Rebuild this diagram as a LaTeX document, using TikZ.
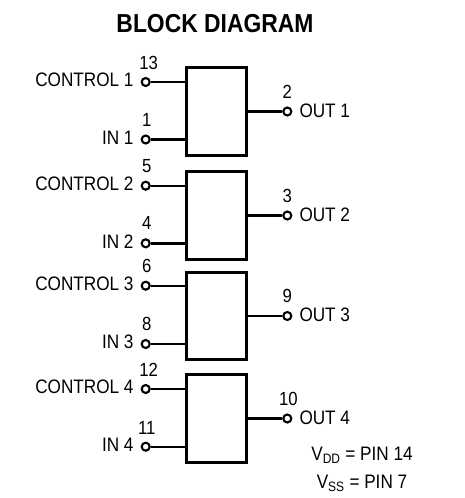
\documentclass[tikz,border=0pt]{standalone}
\usepackage{fontspec}
\setmainfont[FakeStretch=0.88]{Liberation Sans}

\tikzset{
	blk/.style={draw,line width=2.6pt,minimum width=60pt,minimum height=87.5pt,inner sep=0pt},
	pin/.style={circle,draw,line width=2.1pt,minimum size=8pt,inner sep=0pt},
	pinno/.style={font=\fontsize{19}{19}\selectfont,inner sep=0pt},
	lbl/.style={font=\fontsize{19.5}{19.5}\selectfont,inner sep=0pt},
	wire/.style={line width=2.4pt}
}

\begin{document}
\begin{tikzpicture}[x=1pt,y=-1pt]
	\useasboundingbox (0,0) rectangle (464,498);
	\node[font=\bfseries\fontsize{26}{26}\selectfont] (title) at (215,24) {BLOCK DIAGRAM};
%%%%%%%%%%%%%%%%%%%%%%%%%%%%%%%%%%%%%%%%%%%%%%%%%%%%%%%%%%%%
	\node[blk] (blk1) at (216.7,111.5) {};
	\node[pin] (ctl1) at (145.7,82) {};
	\node[pin] (in1) at (145.7,139.5) {};
	\node[pin] (out1) at (287.3,111.5) {};
	\draw[wire] (ctl1) -- (ctl1 -| blk1.west);
	\draw[wire] (in1) -- (in1 -| blk1.west);
	\draw[wire] (blk1) -- (out1);
	\node[lbl,anchor=east] (lctl1) at ([xshift=-12pt,yshift=2pt]ctl1.center) {CONTROL 1};
	\node[lbl,anchor=east] (lin1) at ([xshift=-12pt,yshift=2pt]in1.center) {IN 1};
	\node[lbl,anchor=west] (lout1) at ([xshift=12pt,yshift=1pt]out1.center) {OUT 1};
	\node[pinno] (p13) at ([xshift=3pt,yshift=19pt]ctl1.center) {13};
	\node[pinno] (p1) at ([xshift=1pt,yshift=20pt]in1.center) {1};
	\node[pinno] (p2) at ([xshift=0pt,yshift=20pt]out1.center) {2};
%%%%%%%%%%%%%%%%%%%%%%%%%%%%%%%%%%%%%%%%%%%%%%%%%%%%%%%%%%%%
	\node[blk] (blk2) at (216.7,215.5) {};
	\node[pin] (ctl2) at (145.7,185.7) {};
	\node[pin] (in2) at (145.7,243.3) {};
	\node[pin] (out2) at (287.3,215.5) {};
	\draw[wire] (ctl2) -- (ctl2 -| blk2.west);
	\draw[wire] (in2) -- (in2 -| blk2.west);
	\draw[wire] (blk2) -- (out2);
	\node[lbl,anchor=east] (lctl2) at ([xshift=-12pt,yshift=2pt]ctl2.center) {CONTROL 2};
	\node[lbl,anchor=east] (lin2) at ([xshift=-12pt,yshift=2pt]in2.center) {IN 2};
	\node[lbl,anchor=west] (lout2) at ([xshift=12pt,yshift=1pt]out2.center) {OUT 2};
	\node[pinno] (p5) at ([xshift=1pt,yshift=20pt]ctl2.center) {5};
	\node[pinno] (p4) at ([xshift=1pt,yshift=20pt]in2.center) {4};
	\node[pinno] (p3) at ([xshift=0pt,yshift=20pt]out2.center) {3};
%%%%%%%%%%%%%%%%%%%%%%%%%%%%%%%%%%%%%%%%%%%%%%%%%%%%%%%%%%%%
	\node[blk] (blk3) at (216.7,316) {};
	\node[pin] (ctl3) at (145.7,285.7) {};
	\node[pin] (in3) at (145.7,344) {};
	\node[pin] (out3) at (287.3,316) {};
	\draw[wire] (ctl3) -- (ctl3 -| blk3.west);
	\draw[wire] (in3) -- (in3 -| blk3.west);
	\draw[wire] (blk3) -- (out3);
	\node[lbl,anchor=east] (lctl3) at ([xshift=-12pt,yshift=2pt]ctl3.center) {CONTROL 3};
	\node[lbl,anchor=east] (lin3) at ([xshift=-12pt,yshift=2pt]in3.center) {IN 3};
	\node[lbl,anchor=west] (lout3) at ([xshift=12pt,yshift=1pt]out3.center) {OUT 3};
	\node[pinno] (p6) at ([xshift=1pt,yshift=20pt]ctl3.center) {6};
	\node[pinno] (p8) at ([xshift=1pt,yshift=20pt]in3.center) {8};
	\node[pinno] (p9) at ([xshift=0pt,yshift=20pt]out3.center) {9};
%%%%%%%%%%%%%%%%%%%%%%%%%%%%%%%%%%%%%%%%%%%%%%%%%%%%%%%%%%%%
	\node[blk] (blk4) at (216.7,418.5) {};
	\node[pin] (ctl4) at (145.7,389) {};
	\node[pin] (in4) at (145.7,446.7) {};
	\node[pin] (out4) at (287.3,418.5) {};
	\draw[wire] (ctl4) -- (ctl4 -| blk4.west);
	\draw[wire] (in4) -- (in4 -| blk4.west);
	\draw[wire] (blk4) -- (out4);
	\node[lbl,anchor=east] (lctl4) at ([xshift=-12pt,yshift=2pt]ctl4.center) {CONTROL 4};
	\node[lbl,anchor=east] (lin4) at ([xshift=-12pt,yshift=2pt]in4.center) {IN 4};
	\node[lbl,anchor=west] (lout4) at ([xshift=12pt,yshift=1pt]out4.center) {OUT 4};
	\node[pinno] (p12) at ([xshift=3pt,yshift=19pt]ctl4.center) {12};
	\node[pinno] (p11) at ([xshift=1pt,yshift=19pt]in4.center) {11};
	\node[pinno] (p10) at ([xshift=1pt,yshift=20pt]out4.center) {10};
%%%%%%%%%%%%%%%%%%%%%%%%%%%%%%%%%%%%%%%%%%%%%%%%%%%%%%%%%%%%
	\node[lbl] (vdd) at (362,455) {V\textsubscript{DD} = PIN 14};
	\node[lbl] (vss) at (362,483) {V\textsubscript{SS} = PIN 7};
\end{tikzpicture}
\end{document}
